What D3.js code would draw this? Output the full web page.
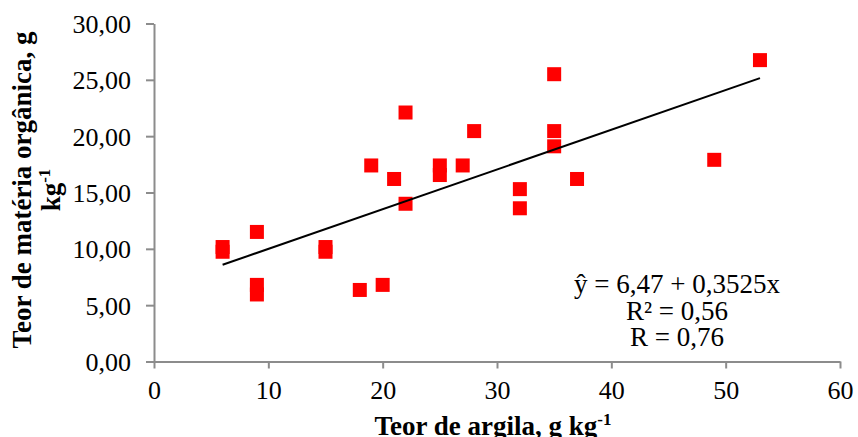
<!DOCTYPE html>
<html>
<head>
<meta charset="utf-8">
<script src="https://cdn.jsdelivr.net/npm/d3@7"></script>
<style>
  body { margin: 0; background: #fff; }
  text { font-family: "Liberation Serif", "Times New Roman", serif; fill: #000; }
</style>
</head>
<body>
<script>
// teor de argila (x) e matéria orgânica (y), g kg-1
const argila = [6, 6, 9, 9, 9, 15, 15, 18, 19, 20, 21, 22, 22, 25, 25, 27, 28, 32, 32, 35, 35, 35, 37, 49, 53];
const materiaOrganica = [10.16, 9.74, 11.5, 6.8, 5.95, 10.16, 9.74, 6.35, 17.4, 6.8, 16.2, 22.1, 14.0, 17.4, 16.55, 17.4, 20.45, 15.3, 13.6, 25.5, 20.45, 19.1, 16.2, 17.9, 26.75];
const xTicks = [0, 10, 20, 30, 40, 50, 60];
const yTicks = [0, 5, 10, 15, 20, 25, 30];
// regressão linear
const intercepto = 6.47;
const inclinacao = 0.3525;
const faixaReta = [6, 53];
const equacao = ["ŷ = 6,47 + 0,3525x", "R² = 0,56", "R = 0,76"];

const width = 858, height = 437;
const mLeft = 154, mRight = 840, mTop = 23.5, mBottom = 361.5;

const svg = d3.select("body").append("svg")
  .attr("width", width)
  .attr("height", height);

const x = d3.scaleLinear().domain([0, 60]).range([mLeft, mRight]);
const y = d3.scaleLinear().domain([0, 30]).range([mBottom, mTop]);

const fmtY = d => d3.format(".2f")(d).replace(".", ",");

// eixo y
const gy = svg.append("g")
  .attr("transform", "translate(" + mLeft + ",0)")
  .call(d3.axisLeft(y).tickValues(yTicks).tickFormat(fmtY).tickSize(8).tickPadding(15).tickSizeOuter(0));

// eixo x
const gx = svg.append("g")
  .attr("transform", "translate(0," + mBottom + ")")
  .call(d3.axisBottom(x).tickValues(xTicks).tickSize(7).tickPadding(12).tickSizeOuter(0));

[gx, gy].forEach(g => {
  g.select(".domain").attr("stroke", "#8c8c8c").attr("stroke-width", 2);
  g.selectAll(".tick line").attr("stroke", "#8c8c8c").attr("stroke-width", 2);
  g.selectAll(".tick text")
    .style("font-family", '"Liberation Serif", "Times New Roman", serif')
    .style("font-size", "26px")
    .attr("fill", "#000");
});
gy.selectAll(".tick text").attr("dy", "0.34em");
gx.selectAll(".tick text").attr("dy", "0.72em");

// pontos
const pontos = argila.map((a, i) => ({ x: a, y: materiaOrganica[i] }));
const s = 14;
svg.append("g").selectAll("rect")
  .data(pontos)
  .enter().append("rect")
  .attr("x", d => x(d.x) - s / 2)
  .attr("y", d => y(d.y) - s / 2)
  .attr("width", s)
  .attr("height", s)
  .attr("fill", "#ff0000");

// linha de tendência
const line = d3.line()
  .x(d => x(d))
  .y(d => y(intercepto + inclinacao * d));
svg.append("path")
  .attr("d", line(faixaReta))
  .attr("fill", "none")
  .attr("stroke", "#000")
  .attr("stroke-width", 2);

// equação
svg.append("g").selectAll("text")
  .data(equacao)
  .enter().append("text")
  .attr("x", 677)
  .attr("y", (d, i) => 293 + i * 26.5)
  .attr("text-anchor", "middle")
  .style("font-size", "27px")
  .text(d => d);

// título eixo x
const tx = svg.append("text")
  .attr("x", 493)
  .attr("y", 435)
  .attr("text-anchor", "middle")
  .style("font-size", "27px")
  .style("font-weight", "bold");
tx.append("tspan").text("Teor de argila, g kg");
tx.append("tspan").attr("dy", -10).style("font-size", "17px").text("-1");

// título eixo y
const ty = svg.append("g").attr("transform", "translate(31,190) rotate(-90)");
ty.append("text")
  .attr("text-anchor", "middle")
  .style("font-size", "27px")
  .style("font-weight", "bold")
  .text("Teor de matéria orgânica, g");
const ty2 = ty.append("text")
  .attr("y", 29)
  .attr("text-anchor", "middle")
  .style("font-size", "27px")
  .style("font-weight", "bold");
ty2.append("tspan").text("kg");
ty2.append("tspan").attr("dy", -10).style("font-size", "17px").text("-1");
</script>
</body>
</html>
